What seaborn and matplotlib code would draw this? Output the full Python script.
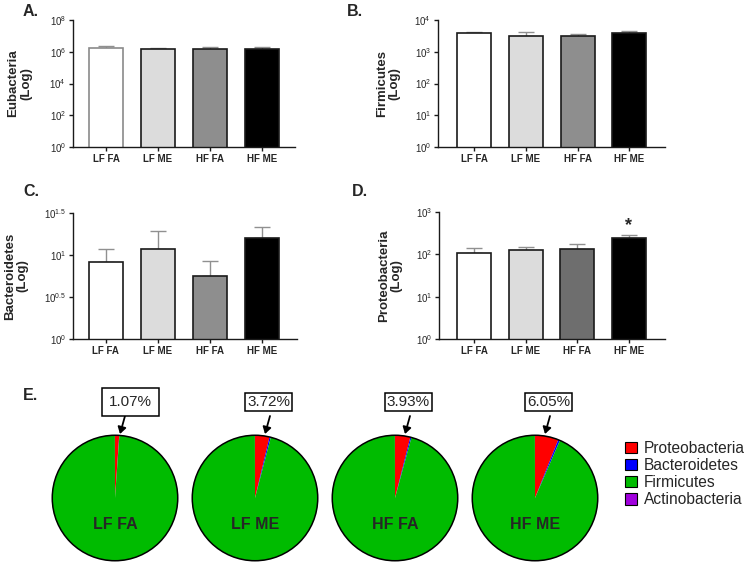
import numpy as np
import matplotlib
matplotlib.use("Agg")
import matplotlib.pyplot as plt
from matplotlib.patches import Patch, Circle
import seaborn as sns

sns.set_style("ticks")
plt.rcParams["font.family"] = ["Liberation Sans", "DejaVu Sans"]
plt.rcParams["mathtext.default"] = "regular"

# ---------------- data ----------------
groups = ["LF FA", "LF ME", "HF FA", "HF ME"]

eub_mean = [1.78e6, 1.55e6, 1.40e6, 1.60e6]
eub_sem = [0.42e6, 0.12e6, 0.60e6, 0.30e6]

firm_mean = [3800, 3200, 3050, 4000]
firm_sem = [500, 1000, 650, 600]

bact_mean = [8.26, 11.8, 5.7, 15.8]
bact_sem = [3.6, 7.5, 2.7, 5.7]

prot_mean = [109, 126, 133, 238]
prot_sem = [29, 25, 45, 45]

phyla = ["Proteobacteria", "Bacteroidetes", "Firmicutes", "Actinobacteria"]
phyla_colors = ["#ff0000", "#0000ff", "#00bb00", "#a000dd"]
pie_shares = {
    "LF FA": [1.07, 0.05, 98.86, 0.02],
    "LF ME": [3.72, 0.35, 95.91, 0.02],
    "HF FA": [3.93, 0.30, 95.75, 0.02],
    "HF ME": [6.05, 0.45, 93.48, 0.02],
}
pie_labels = ["1.07%", "3.72%", "3.93%", "6.05%"]

W, H = 750, 566
fig = plt.figure(figsize=(W / 100, H / 100), dpi=100)


def px_axes(left, top, right, bottom):
    return fig.add_axes([left / W, 1 - bottom / H, (right - left) / W, (bottom - top) / H])


def bar_panel(ax, means, sems, colors, ylim, ticks, ticklabels, ylabel, xlim, ylab_x, first_edge="#1a1a1a"):
    sns.barplot(x=groups, y=means, hue=groups, palette=colors, legend=False, ax=ax,
                width=0.66, edgecolor="#1a1a1a", linewidth=1.2, errorbar=None, saturation=1)
    ax.patches[0].set_edgecolor(first_edge)
    ax.set_yscale("log")
    ax.errorbar(np.arange(len(groups)), means, yerr=[np.zeros(len(means)), sems], fmt="none",
                ecolor="#909090", elinewidth=1.0, capsize=6, capthick=1.0, zorder=0.5)
    ax.set_ylim(*ylim)
    ax.set_xlim(*xlim)
    ax.yaxis.set_major_locator(matplotlib.ticker.FixedLocator(ticks))
    ax.yaxis.set_minor_locator(matplotlib.ticker.NullLocator())
    ax.set_yticklabels(ticklabels, fontsize=7)
    ax.set_xticks(range(len(groups)))
    ax.set_xticklabels(groups, fontsize=7, fontweight="bold")
    ax.set_xlabel("")
    ax.set_ylabel(ylabel, fontsize=9.5, fontweight="bold", linespacing=1.05)
    ax.yaxis.set_label_coords(ylab_x, 0.5)
    for s in ["top", "right"]:
        ax.spines[s].set_visible(False)
    for s in ["left", "bottom"]:
        ax.spines[s].set_linewidth(1.0)
        ax.spines[s].set_color("#1a1a1a")
    ax.tick_params(axis="both", length=3, width=1.0, pad=2, color="#1a1a1a")
    ax.set_facecolor("white")


grays = ["#ffffff", "#dcdcdc", "#8e8e8e", "#000000"]
grays_d = ["#ffffff", "#dcdcdc", "#6e6e6e", "#000000"]

axA = px_axes(73, 20, 295, 147)
bar_panel(axA, eub_mean, eub_sem, grays, (1, 1e8), [1, 1e2, 1e4, 1e6, 1e8],
          ["$10^{0}$", "$10^{2}$", "$10^{4}$", "$10^{6}$", "$10^{8}$"],
          "Eubacteria\n(Log)", (-0.635, 3.64), -0.185, first_edge="#8a8a8a")

axB = px_axes(438, 20, 665, 147)
bar_panel(axB, firm_mean, firm_sem, grays, (1, 1e4), [1, 1e1, 1e2, 1e3, 1e4],
          ["$10^{0}$", "$10^{1}$", "$10^{2}$", "$10^{3}$", "$10^{4}$"],
          "Firmicutes\n(Log)", (-0.70, 3.69), -0.167)

axC = px_axes(73, 213, 297, 339)
bar_panel(axC, bact_mean, bact_sem, grays, (1, 10 ** 1.5), [1, 10 ** 0.5, 10, 10 ** 1.5],
          ["$10^{0}$", "$10^{0.5}$", "$10^{1}$", "$10^{1.5}$"],
          "Bacteroidetes\n(Log)", (-0.63, 3.68), -0.20)

axD = px_axes(439, 212, 665, 339)
bar_panel(axD, prot_mean, prot_sem, grays_d, (1, 1e3), [1, 1e1, 1e2, 1e3],
          ["$10^{0}$", "$10^{1}$", "$10^{2}$", "$10^{3}$"],
          "Proteobacteria\n(Log)", (-0.68, 3.70), -0.16)
axD.text(3, (prot_mean[3] + prot_sem[3]) * 1.65, "*", ha="center", va="center",
         fontsize=13, fontweight="bold")

# panel letters
for lbl, (x, y) in zip(["A.", "B.", "C.", "D.", "E."],
                       [(31, 12), (355, 12), (31, 192), (360, 192), (31, 395)]):
    fig.text(x / W, 1 - y / H, lbl, ha="center", va="center", fontsize=11.5, fontweight="bold")

# ---------------- pies ----------------
R = 64
for k, g in enumerate(groups):
    cx, cy = 115 + 140 * k, 498
    ax = px_axes(cx - R, cy - R, cx + R, cy + R)
    ax.pie(pie_shares[g], colors=phyla_colors, startangle=90, counterclock=False,
           radius=1, wedgeprops=dict(linewidth=0))
    ax.add_patch(Circle((0, 0), 1, fill=False, edgecolor="black", linewidth=1.1))
    ax.set_xlim(-1.02, 1.02)
    ax.set_ylim(-1.02, 1.02)
    ax.set_aspect("equal")
    ax.axis("off")
    ax.text(0, -0.42, g, ha="center", va="center", fontsize=11.5, fontweight="bold")
    # percentage box
    bx = cx + (15.5 if k == 0 else 13.5)
    pad = 0.45 if k == 0 else 0.15
    fig.text(bx / W, 1 - 402 / H, pie_labels[k], ha="center", va="center", fontsize=11,
             bbox=dict(boxstyle=f"square,pad={pad}", facecolor="white", edgecolor="black", linewidth=1.1))
    tx = cx + (10 if k == 0 else 15)
    hx = cx + (5 if k == 0 else 10)
    fig.add_artist(matplotlib.patches.FancyArrowPatch(
        (tx / W, 1 - 416 / H), (hx / W, 1 - 434 / H), transform=fig.transFigure,
        arrowstyle="-|>,head_length=4,head_width=2.5", color="black", linewidth=1.3,
        mutation_scale=1, shrinkA=0, shrinkB=0))

handles = [Patch(facecolor=c, edgecolor="black", linewidth=0.8) for c in phyla_colors]
fig.legend(handles, phyla, loc="upper left", bbox_to_anchor=(625 / W, 1 - 441 / H),
           frameon=False, fontsize=11.2, handlelength=0.78, handleheight=0.78,
           handletextpad=0.45, labelspacing=0.13, borderpad=0, borderaxespad=0)

fig.savefig("out.png", dpi=100, facecolor="white")
